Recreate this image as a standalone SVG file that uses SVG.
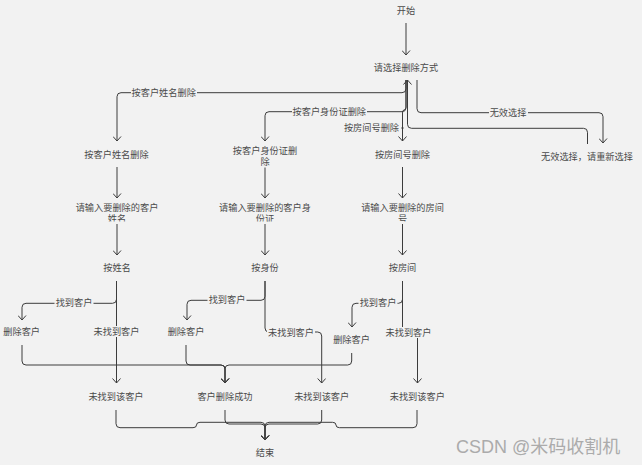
<svg xmlns="http://www.w3.org/2000/svg" width="642" height="465" viewBox="0 0 642 465">
  <style>
    text { font-family: "Liberation Sans", "Noto Sans CJK SC", sans-serif; font-size: 9.2px; fill: #4a4a4a; text-anchor: middle; dominant-baseline: central; }
    .edge { fill: none; stroke: #3c3c3c; stroke-width: 1; }
    .arrow { marker-end: url(#open); }
    .lblbg { fill: #f2f2f2; stroke: none; }
    .wm { font-size: 18px; fill: #ababab; text-anchor: start; }
  </style>
  <defs>
    <marker id="open" viewBox="0 0 6 9" refX="5" refY="4.5" markerWidth="6" markerHeight="9" markerUnits="userSpaceOnUse" orient="auto">
      <path d="M0.5,0.5 L5,4.5 L0.5,8.5" fill="none" stroke="#3c3c3c" stroke-width="1"/>
    </marker>
    <clipPath id="cut2"><rect x="0" y="0" width="642" height="221.5"/></clipPath>
  </defs>

  <rect width="642" height="465" fill="#f2f2f2"/>

  <!-- connectors -->
  <g id="connectors">
    <path class="edge arrow" d="M406,23 V55"/>
    <!-- menu choices -->
    <path class="edge arrow" d="M406,80 V88.7 Q406,92.7 402,92.7 H121 Q117,92.7 117,96.7 V141"/>
    <path class="edge arrow" d="M406,80 V107.7 Q406,111.7 402,111.7 H269 Q265,111.7 265,115.7 V141"/>
    <path class="edge arrow" d="M406,80 V107 Q406,110 404,110 Q402.5,110 402.5,113 V141"/>
    <circle cx="402.5" cy="128" r="1.1" fill="#3c3c3c"/>
    <path class="edge arrow" d="M417,80 V108.7 Q417,112.7 421,112.7 H599 Q603,112.7 603,116.7 V143"/>
    <path class="edge arrow" d="M587.5,144 V132.3 Q587.5,128.3 583.5,128.3 H411.5 Q407.5,128.3 407.5,124.3 V80"/>
    <!-- input steps -->
    <path class="edge arrow" d="M117,167 V198"/>
    <path class="edge arrow" d="M117,224 V255"/>
    <path class="edge arrow" d="M265,167.5 V198"/>
    <path class="edge arrow" d="M265,224 V255"/>
    <path class="edge arrow" d="M402.5,167 V198"/>
    <path class="edge arrow" d="M402.5,224 V255"/>
    <!-- search results: name -->
    <path class="edge arrow" d="M116.5,281 V383"/>
    <path class="edge arrow" d="M116.5,281 V299.3 Q116.5,303.3 112.5,303.3 H26 Q22,303.3 22,307.3 V320"/>
    <!-- search results: id -->
    <path class="edge arrow" d="M265,281 V296.3 Q265,300.3 261,300.3 H191 Q187,300.3 187,304.3 V320"/>
    <path class="edge arrow" d="M265,281 V328 Q265,332 269,332 H317.7 Q321.7,332 321.7,336 V383"/>
    <!-- search results: room -->
    <path class="edge arrow" d="M402.5,281 V299.3 Q402.5,303.3 398.5,303.3 H356 Q352,303.3 352,307.3 V327"/>
    <path class="edge arrow" d="M402.5,281 V328 Q402.5,332 406.5,332 H413.5 Q417.5,332 417.5,336 V383"/>
    <!-- deletions merge -->
    <path class="edge arrow" d="M22,345 V361 Q22,365 26,365 H221 Q225,365 225,369 V383"/>
    <path class="edge arrow" d="M186,345 V361 Q186,365 190,365 H221 Q225,365 225,369 V383"/>
    <path class="edge arrow" d="M351.7,353 V361 Q351.7,365 347.7,365 H229 Q225,365 225,369 V383"/>
    <!-- everything to end -->
    <path class="edge arrow" d="M116,410 V423.7 Q116,427.7 120,427.7 H193 Q196.5,427.7 196.5,425 Q196.5,422.3 200,422.3 H261 Q265,422.3 265,426.3 V440"/>
    <path class="edge arrow" d="M225,410 V420 Q225,424 229,424 H261 Q265,424 265,428 V440"/>
    <path class="edge arrow" d="M321.7,410 V420 Q321.7,424 317.7,424 H269 Q265,424 265,428 V440"/>
    <path class="edge arrow" d="M417,410 V423.7 Q417,427.7 413,427.7 H339.5 Q336,427.7 336,425 Q336,422.3 332.5,422.3 H269 Q265,422.3 265,426.3 V440"/>
  </g>

  <!-- connector labels -->
  <g id="edge-labels">
    <rect class="lblbg" x="131" y="87" width="66" height="11"/>
    <text x="163.7" y="92.7">按客户姓名删除</text>
    <rect class="lblbg" x="292" y="106" width="75" height="11"/>
    <text x="329.3" y="111.7">按客户身份证删除</text>
    <rect class="lblbg" x="343" y="122.5" width="57" height="11"/>
    <text x="371.5" y="128">按房间号删除</text>
    <rect class="lblbg" x="489" y="107" width="39" height="11"/>
    <text x="508" y="112.7">无效选择</text>
    <rect class="lblbg" x="54.5" y="297.5" width="39" height="11"/>
    <text x="74" y="303.3">找到客户</text>
    <rect class="lblbg" x="207.5" y="294.5" width="39" height="11"/>
    <text x="227" y="300.3">找到客户</text>
    <rect class="lblbg" x="358.5" y="297.5" width="39" height="11"/>
    <text x="378" y="303.3">找到客户</text>
    <rect class="lblbg" x="92.5" y="326" width="48" height="11"/>
    <text x="116.5" y="331.5">未找到客户</text>
    <rect class="lblbg" x="267" y="327.5" width="48" height="11"/>
    <text x="291" y="333">未找到客户</text>
    <rect class="lblbg" x="384.5" y="327" width="48" height="11"/>
    <text x="408.5" y="332.7">未找到客户</text>
  </g>

  <!-- nodes -->
  <g id="start"><text x="406" y="11">开始</text></g>
  <g id="choose"><text x="406" y="68">请选择删除方式</text></g>
  <g id="by-name"><text x="116.5" y="155">按客户姓名删除</text></g>
  <g id="by-id"><text x="265" y="150.7">按客户身份证删</text><text x="265" y="161.7">除</text></g>
  <g id="by-room"><text x="402.5" y="155">按房间号删除</text></g>
  <g id="invalid"><text x="587" y="157">无效选择，请重新选择</text></g>
  <g id="input-name"><text x="117" y="207.7">请输入要删除的客户</text><text x="117" y="219.3" clip-path="url(#cut2)">姓名</text></g>
  <g id="input-id"><text x="265" y="207.7">请输入要删除的客户身</text><text x="265" y="219.3" clip-path="url(#cut2)">份证</text></g>
  <g id="input-room"><text x="402.5" y="207.7">请输入要删除的房间</text><text x="402.5" y="219.3" clip-path="url(#cut2)">号</text></g>
  <g id="find-name"><text x="117" y="268.3">按姓名</text></g>
  <g id="find-id"><text x="265" y="268.3">按身份</text></g>
  <g id="find-room"><text x="402.5" y="268.3">按房间</text></g>
  <g id="delete-name"><text x="21.7" y="332.3">删除客户</text></g>
  <g id="delete-id"><text x="186" y="332.3">删除客户</text></g>
  <g id="delete-room"><text x="351.5" y="340">删除客户</text></g>
  <g id="notfound-name"><text x="116" y="396.7">未找到该客户</text></g>
  <g id="deleted"><text x="225" y="396.7">客户删除成功</text></g>
  <g id="notfound-id"><text x="321.7" y="396.7">未找到该客户</text></g>
  <g id="notfound-room"><text x="417.3" y="396.7">未找到该客户</text></g>
  <g id="end"><text x="265" y="453.3">结束</text></g>

  <text class="wm" x="456" y="446.7">CSDN @米码收割机</text>
</svg>
